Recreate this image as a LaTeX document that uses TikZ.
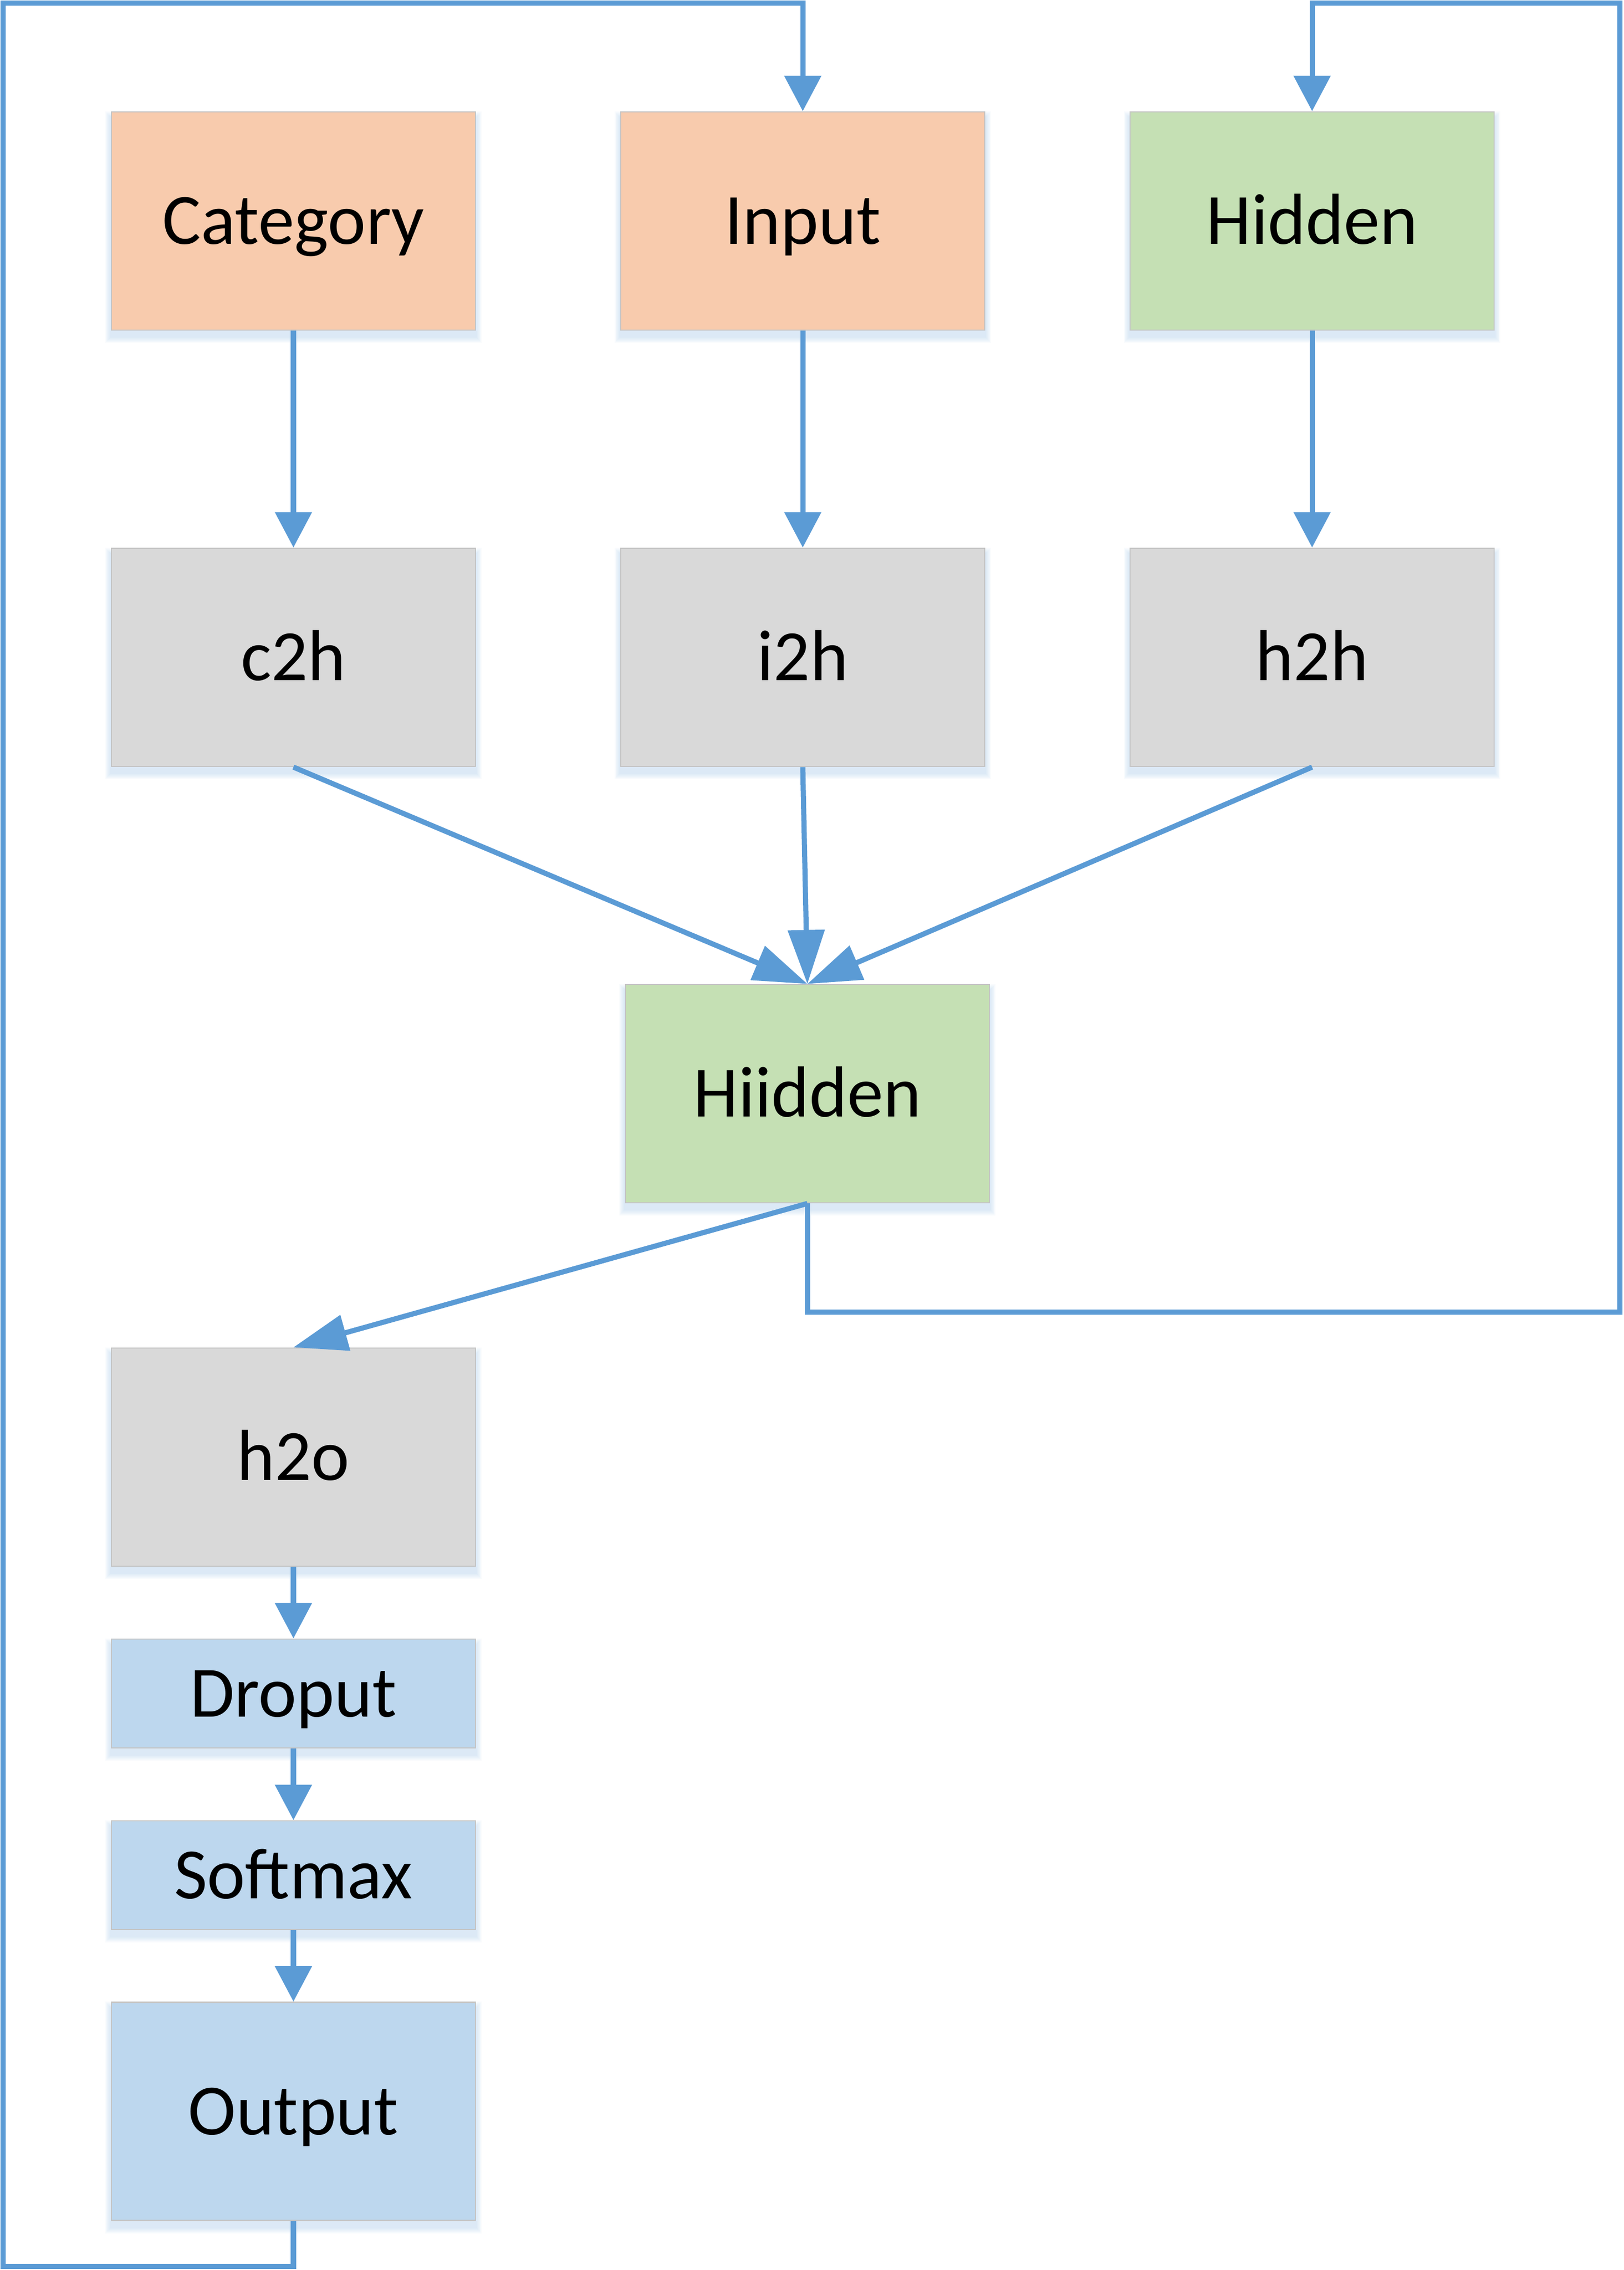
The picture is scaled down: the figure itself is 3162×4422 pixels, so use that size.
\documentclass[tikz,border=0pt]{standalone}
\usepackage{fontspec}
\setmainfont{Carlito}
\usetikzlibrary{arrows.meta}
\definecolor{lineblue}{HTML}{5B9BD5}
\definecolor{peach}{HTML}{F8CBAD}
\definecolor{lgreen}{HTML}{C5E0B4}
\definecolor{lgray}{HTML}{D9D9D9}
\definecolor{lblue}{HTML}{BDD7EE}
\definecolor{bordergray}{HTML}{C4C4C4}
\pgfdeclarelayer{bg}
\pgfsetlayers{bg,main}
\tikzset{
  box/.style={draw=bordergray, line width=0.7pt, minimum width=7.09cm, minimum height=4.25cm,
    inner sep=0pt, text height=0.9cm, text depth=0pt, font=\fontsize{40}{48}\selectfont},
  smallbox/.style={box, minimum height=2.12cm},
  conn/.style={draw=lineblue, line width=2.85pt},
  arr/.style={conn, -{Triangle[length=0.69cm, width=0.70cm]}},
  bigarr/.style={conn, -{Triangle[length=1.05cm, width=0.70cm]}},
}
\begin{document}
\begin{tikzpicture}[x=0.01cm, y=-0.01cm]
\useasboundingbox (0,0) rectangle (3162,4422);
% boxes
\node[box, fill=peach]  (cat) at (571.5,430.5)  {Category};
\node[box, fill=peach]  (inp) at (1563.5,430.5) {Input};
\node[box, fill=lgreen] (hid) at (2555.5,430.5) {Hidden};
\node[box, fill=lgray]  (c2h) at (571.5,1280.5)  {c2h};
\node[box, fill=lgray]  (i2h) at (1563.5,1280.5) {i2h};
\node[box, fill=lgray]  (h2h) at (2555.5,1280.5) {h2h};
\node[box, fill=lgreen] (hii) at (1572.5,2130.5) {Hiidden};
\node[box, fill=lgray]  (h2o) at (571.5,2838.5) {h2o};
\node[smallbox, fill=lblue] (drop) at (571.5,3299) {Droput};
\node[smallbox, fill=lblue] (soft) at (571.5,3653) {Softmax};
\node[box, fill=lblue]  (out) at (571.5,4113) {Output};
% soft shadows
\begin{pgfonlayer}{bg}
\foreach \n in {cat,inp,hid,c2h,i2h,h2h,hii,h2o,drop,soft,out}{
  \foreach \k in {1,...,6}{
    \fill[lineblue, opacity=0.04]
      ([xshift=-\k*0.018cm, yshift=-0.12cm-\k*0.02cm]\n.south west)
      rectangle ([xshift=\k*0.018cm, yshift=-0.12cm+\k*0.02cm]\n.north east);
  }
}
\end{pgfonlayer}
% loop coordinates
\coordinate (bl) at (6,4415);
\coordinate (tl) at (6,6);
\coordinate (br) at (3155,2556);
\coordinate (tr) at (3155,6);
% connectors
\draw[arr] (cat.south) -- (c2h.north);
\draw[arr] (inp.south) -- (i2h.north);
\draw[arr] (hid.south) -- (h2h.north);
\draw[bigarr] (c2h.south) -- (hii.north);
\draw[bigarr] (i2h.south) -- (hii.north);
\draw[bigarr] (h2h.south) -- (hii.north);
\draw[bigarr] (hii.south) -- (h2o.north);
\draw[arr] (h2o.south) -- (drop.north);
\draw[arr] (drop.south) -- (soft.north);
\draw[arr] (soft.south) -- (out.north);
\draw[arr] (out.south) -- (out.south |- bl) -- (bl) -- (tl) -- (tl -| inp.north) -- (inp.north);
\draw[arr] (hii.south) -- (hii.south |- br) -- (br) -- (tr) -- (tr -| hid.north) -- (hid.north);
\end{tikzpicture}
\end{document}
